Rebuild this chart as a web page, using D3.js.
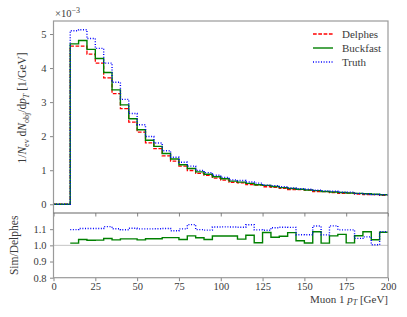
<!DOCTYPE html>
<meta charset="utf-8">
<style>
  body { margin: 0; background: #fff; }
  svg text { font-family: "Liberation Serif", "DejaVu Serif", serif; fill: #3a3a3a; }
  .tick text { font-size: 10.5px; }
</style>
<body>
<script src="https://cdnjs.cloudflare.com/ajax/libs/d3/7.8.5/d3.min.js"></script>
<script>
// bin lower edges [GeV], bin width 5
var binEdges = [0,5,10,15,20,25,30,35,40,45,50,55,60,65,70,75,80,85,90,95,
                100,105,110,115,120,125,130,135,140,145,150,155,160,165,170,175,180,185,190,195,200];

// normalised distributions, in units of 1e-3 / GeV
var delphes = [0,0,4.645,4.643,4.409,4.147,3.714,3.250,2.808,2.413,2.118,1.806,1.633,1.422,1.269,1.120,
               0.992,0.907,0.849,0.766,0.709,0.643,0.626,0.579,0.566,0.514,0.495,0.464,0.431,0.428,
               0.414,0.369,0.370,0.340,0.323,0.325,0.302,0.286,0.285,0.259];
var buckfast = [0,0,4.71,4.81,4.55,4.28,3.87,3.36,2.92,2.51,2.19,1.88,1.70,1.49,1.33,1.16,
                1.05,0.95,0.88,0.81,0.75,0.68,0.65,0.615,0.575,0.555,0.52,0.49,0.465,0.44,
                0.42,0.40,0.375,0.36,0.345,0.33,0.32,0.31,0.295,0.28];
var truth = [0,0,5.096,5.126,4.867,4.578,4.145,3.585,3.080,2.667,2.334,1.990,1.800,1.570,1.383,1.234,
             1.119,0.995,0.929,0.853,0.790,0.716,0.696,0.653,0.620,0.562,0.549,0.516,0.479,0.456,
             0.441,0.413,0.394,0.381,0.354,0.356,0.315,0.301,0.286,0.281];

var xTicks = [0,25,50,75,100,125,150,175,200];
var yTicks = [0,1,2,3,4,5];
var rTicks = [0.8,0.9,1.0,1.1];

var width = 407, height = 317;
var left = 53.5, right = 388, mainTop = 21, split = 213, bottom = 277.7;

var svg = d3.select("body").append("svg")
    .attr("width", width)
    .attr("height", height);

var x = d3.scaleLinear().domain([0, 200]).range([left, right]);

var ymax = d3.max(truth), pad = 0.05 * ymax;
var y = d3.scaleLinear().domain([-pad, ymax + pad]).range([split, mainTop]);
var yr = d3.scaleLinear().domain([0.8, 1.2]).range([bottom, split]);

function stairs(vals, ys, keep) {
  var pts = [];
  vals.forEach(function(v, i) {
    if (keep(i)) pts.push([binEdges[i], v]);
  });
  var last = pts[pts.length - 1];
  pts.push([binEdges[binEdges.length - 1], last[1]]);
  return d3.line()
    .x(function(d) { return x(d[0]); })
    .y(function(d) { return ys(d[1]); })
    .curve(d3.curveStepAfter)(pts);
}

var series = [
  {name: "Delphes", vals: delphes, color: "#ff0000", dash: "3.7,1.6", w: 1.3},
  {name: "Buckfast", vals: buckfast, color: "#008000", dash: null, w: 1.4},
  {name: "Truth", vals: truth, color: "#0000ff", dash: "1,1.65", w: 1.4}
];

// main panel curves
series.forEach(function(s) {
  svg.append("path")
    .attr("d", stairs(s.vals, y, function() { return true; }))
    .attr("fill", "none")
    .attr("stroke", s.color)
    .attr("stroke-width", s.w)
    .attr("stroke-dasharray", s.dash);
});

// ratio panel
svg.append("line")
  .attr("x1", left).attr("x2", right)
  .attr("y1", yr(1)).attr("y2", yr(1))
  .attr("stroke", "#c0c0c0").attr("stroke-width", 0.9);

series.slice(1).forEach(function(s) {
  var ratio = s.vals.map(function(v, i) { return delphes[i] > 0 ? v / delphes[i] : NaN; });
  svg.append("path")
    .attr("d", stairs(ratio, yr, function(i) { return delphes[i] > 0; }))
    .attr("fill", "none")
    .attr("stroke", s.color)
    .attr("stroke-width", s.w)
    .attr("stroke-dasharray", s.dash);
});

// axes
var gy = svg.append("g").attr("transform", "translate(" + left + ",0)")
  .call(d3.axisLeft(y).tickValues(yTicks).tickSize(3.5).tickPadding(3.5).tickFormat(d3.format("d")));
var gr = svg.append("g").attr("transform", "translate(" + left + ",0)")
  .call(d3.axisLeft(yr).tickValues(rTicks).tickSize(3.5).tickPadding(3.5).tickFormat(d3.format(".1f")));
var gx = svg.append("g").attr("transform", "translate(0," + bottom + ")")
  .call(d3.axisBottom(x).tickValues(xTicks).tickSize(3.5).tickPadding(1));
var gx2 = svg.append("g").attr("transform", "translate(0," + split + ")")
  .call(d3.axisBottom(x).tickValues(xTicks).tickSize(3.5).tickFormat(""));

[gy, gr, gx, gx2].forEach(function(g) {
  g.select(".domain").remove();
  g.selectAll(".tick line").attr("stroke", "#666").attr("stroke-width", 0.8);
});

// frames
svg.append("rect")
  .attr("x", left).attr("y", mainTop)
  .attr("width", right - left).attr("height", bottom - mainTop)
  .attr("fill", "none").attr("stroke", "#9a9a9a").attr("stroke-width", 1.2);
svg.append("line")
  .attr("x1", left).attr("x2", right)
  .attr("y1", split).attr("y2", split)
  .attr("stroke", "#666").attr("stroke-width", 1.2);

// labels
svg.append("text")
  .attr("x", 55).attr("y", 17)
  .style("font-size", "10.5px")
  .html('×10<tspan dy="-4.5" style="font-size:8px">−3</tspan>');

var yl = svg.append("text")
  .attr("transform", "translate(26,108) rotate(-90)")
  .attr("text-anchor", "middle")
  .style("font-size", "11.5px");
yl.html('1/<tspan font-style="italic">N</tspan><tspan dy="2.5" style="font-size:8px">ev</tspan>' +
  '<tspan dy="-2.5"> d</tspan><tspan font-style="italic">N</tspan><tspan dy="2.5" style="font-size:8px">obj</tspan>' +
  '<tspan dy="-2.5">/d</tspan><tspan font-style="italic">p</tspan><tspan dy="2.5" style="font-size:8px" font-style="italic">T</tspan>' +
  '<tspan dy="-2.5"> [1/GeV]</tspan>');

svg.append("text")
  .attr("transform", "translate(18," + ((split + bottom) / 2) + ") rotate(-90)")
  .attr("text-anchor", "middle")
  .style("font-size", "11.5px")
  .text("Sim/Delphes");

svg.append("text")
  .attr("x", right).attr("y", 302.5)
  .attr("text-anchor", "end")
  .style("font-size", "11px")
  .html('Muon 1 <tspan font-style="italic">p</tspan><tspan dy="2.5" style="font-size:8px" font-style="italic">T</tspan><tspan dy="-2.5"> [GeV]</tspan>');

// legend
var lg = svg.append("g").attr("transform", "translate(313,34)");
series.forEach(function(s, i) {
  var row = lg.append("g").attr("transform", "translate(0," + (i * 14) + ")");
  row.append("line")
    .attr("x1", 0).attr("x2", 20)
    .attr("stroke", s.color)
    .attr("stroke-width", s.w)
    .attr("stroke-dasharray", s.dash);
  row.append("text")
    .attr("x", 29).attr("y", 3.8)
    .style("font-size", "11px")
    .text(s.name);
});
</script>
</body>
